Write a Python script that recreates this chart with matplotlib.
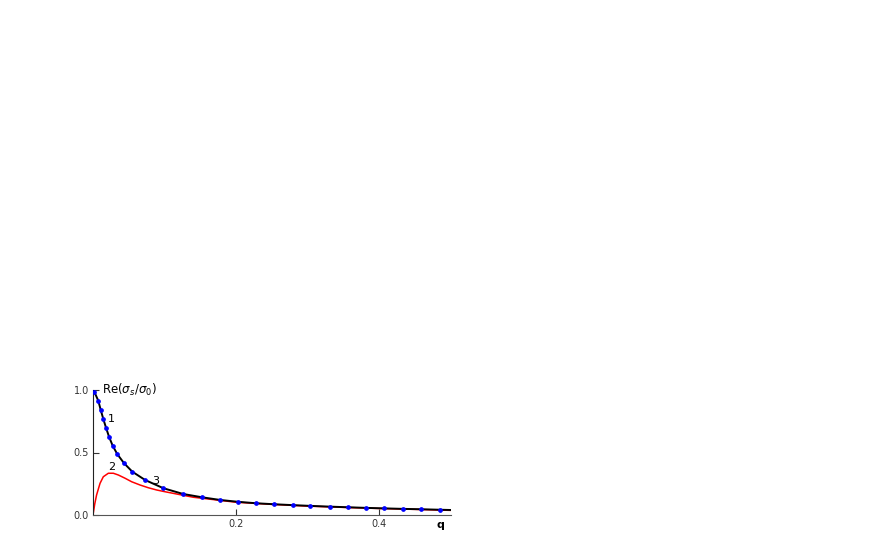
import matplotlib
matplotlib.use("Agg")
import matplotlib.pyplot as plt

plt.rcParams['font.family'] = ['DejaVu Sans']
plt.rcParams['mathtext.fontset'] = 'dejavusans'

# curve 1 (black line) and the blue dots on it
q_dots = [0.0018, 0.0074, 0.0108, 0.0144, 0.0182, 0.0224, 0.0275, 0.034, 0.0434,
          0.055, 0.0728, 0.0984, 0.126, 0.152, 0.178, 0.2019, 0.2276, 0.2531,
          0.2787, 0.3035, 0.3305, 0.3557, 0.3814, 0.407, 0.4326, 0.4583, 0.4843]
re_dots = [0.986, 0.914, 0.84, 0.768, 0.698, 0.626, 0.554, 0.486, 0.414,
           0.346, 0.28, 0.214, 0.168, 0.142, 0.12, 0.106, 0.094, 0.086,
           0.079, 0.073, 0.067, 0.062, 0.057, 0.053, 0.049, 0.046, 0.042]

q_black = [0.0] + q_dots + [0.5]
re_black = [1.0] + re_dots + [0.040]

# curve 2 (red line)
q_red = [0.0, 0.0025, 0.005, 0.0098, 0.0144, 0.0214, 0.0284, 0.0354, 0.0448, 0.054,
         0.0657, 0.0773, 0.089, 0.1007, 0.14, 0.2, 0.25, 0.3, 0.35, 0.4, 0.45, 0.5]
re_red = [0.0, 0.09, 0.16, 0.253, 0.306, 0.334, 0.334, 0.32, 0.294, 0.266,
          0.24, 0.218, 0.2, 0.186, 0.142, 0.102, 0.085, 0.071, 0.061, 0.052, 0.045, 0.037]

fig = plt.figure(figsize=(8.72, 5.45), dpi=100)
ax = fig.add_axes([93 / 872, 30 / 545, (451 - 93) / 872, 125 / 545])

ax.plot(q_red, re_red, color='red', lw=1.1, zorder=2)
ax.plot(q_black, re_black, color='black', lw=1.4, zorder=3)
ax.plot(q_dots, re_dots, ls='none', marker='o', ms=2.4, color='blue', mec='blue', zorder=4)

ax.set_xlim(0, 0.5)
ax.set_ylim(0, 1.0)
ax.spines['top'].set_visible(False)
ax.spines['right'].set_visible(False)
ax.spines['left'].set_color('#222222')
ax.spines['bottom'].set_color('#555555')
ax.set_xticks([0.2, 0.4])
ax.set_xticklabels(['0.2', '0.4'])
ax.set_yticks([0.0, 0.5, 1.0])
ax.set_yticklabels(['0.0', '0.5', '1.0'])
ax.tick_params(direction='in', length=4, width=0.8, labelsize=7, colors='#333333', pad=3)

ax.text(0.013, 1.0, r'Re($\sigma_s/\sigma_0$)', fontsize=8.5, va='center', ha='left')
ax.text(0.48, -0.04, 'q', fontsize=8, va='top', ha='left', fontweight='bold')
ax.text(0.025, 0.77, '1', fontsize=8, ha='center', va='center')
ax.text(0.026, 0.38, '2', fontsize=8, ha='center', va='center')
ax.text(0.088, 0.275, '3', fontsize=8, ha='center', va='center')

fig.savefig('out.png', dpi=100)
